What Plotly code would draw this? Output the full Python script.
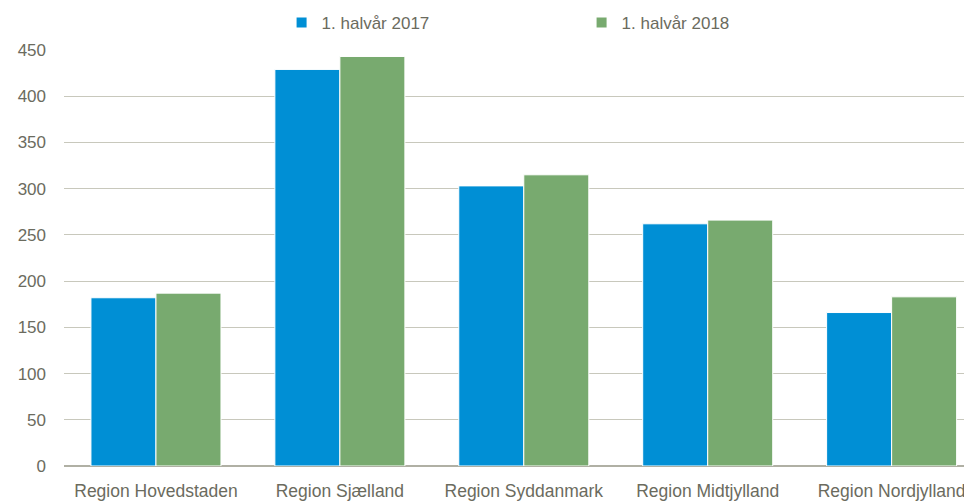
import plotly.graph_objects as go

categories = ["Region Hovedstaden", "Region Sjælland", "Region Syddanmark", "Region Midtjylland", "Region Nordjylland"]
series_2017 = [182, 429, 303, 262, 166]
series_2018 = [187, 443, 315, 266, 183]
series_names = ["1. halvår 2017", "1. halvår 2018"]
y_ticks = [0, 50, 100, 150, 200, 250, 300, 350, 400, 450]

FONT = "Liberation Sans, Arial, sans-serif"
TXT = "#6b6b5e"

fig = go.Figure()
fig.add_trace(go.Bar(x=categories, y=series_2017, name=series_names[0],
                     marker=dict(color="#008fd5", line=dict(color="white", width=1))))
fig.add_trace(go.Bar(x=categories, y=series_2018, name=series_names[1],
                     marker=dict(color="#78aa6f", line=dict(color="white", width=1))))

# page body has an 8px default margin; figure is sized/offset to compensate
fig.update_layout(
    width=964, height=493,
    margin=dict(l=56, r=0, t=42, b=34.5, autoexpand=False),
    paper_bgcolor="white", plot_bgcolor="white",
    barmode="group", bargap=0.293, bargroupgap=0.0,
    font=dict(family=FONT, size=17, color=TXT),
    showlegend=True,
    legend=dict(orientation="h", xref="container", yref="container",
                x=0.2838, y=0.9696, xanchor="left", yanchor="middle",
                entrywidth=255, entrywidthmode="pixels",
                font=dict(family=FONT, size=17, color=TXT),
                itemsizing="constant", bgcolor="rgba(0,0,0,0)"),
    xaxis=dict(range=[-0.5, 4.437], showgrid=False, showline=False, zeroline=False,
               ticks="", tickfont=dict(family=FONT, size=17.5, color=TXT),
               ticklabelstandoff=12, fixedrange=True),
    yaxis=dict(range=[0, 450], tickvals=y_ticks, showgrid=True, gridcolor="#c8c8bc", gridwidth=1,
               zeroline=True, zerolinecolor="#b0b0a4", zerolinewidth=1.5,
               showline=False, ticks="", ticklabelstandoff=17,
               tickfont=dict(family=FONT, size=17, color=TXT), fixedrange=True),
)

fig.write_html("out.html")
